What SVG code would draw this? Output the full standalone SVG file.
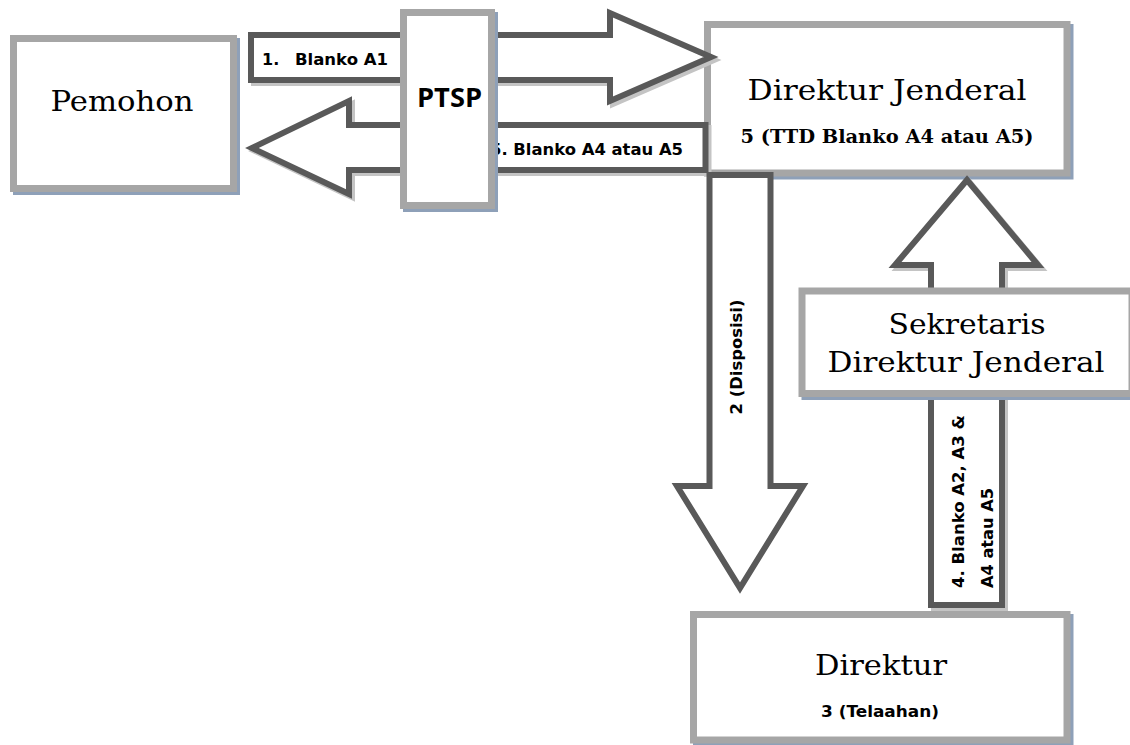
<svg xmlns="http://www.w3.org/2000/svg" width="1130" height="745" viewBox="0 0 1130 745">
<style>
.box{fill:#ffffff;stroke:#a6a6a6;stroke-width:7}
.bsh{fill:none;stroke:#8ea0b8;stroke-width:7}
.arr{fill:#ffffff;stroke:#595959;stroke-width:6;stroke-linejoin:miter}
.ash{fill:none;stroke:#c4c4c4;stroke-width:6;stroke-linejoin:miter}
.serif{font-family:"DejaVu Serif","Liberation Serif",serif;font-size:28px;fill:#000;text-anchor:middle}
.serifb{font-family:"DejaVu Serif","Liberation Serif",serif;font-size:18px;font-weight:bold;fill:#000;text-anchor:middle}
.sans{font-family:"DejaVu Sans","Liberation Sans",sans-serif;font-size:16px;font-weight:bold;fill:#000}
.ptsp{font-family:"Open Sans","Liberation Sans",sans-serif;font-size:26px;font-weight:bold;fill:#000;text-anchor:middle}
</style>
<rect width="1130" height="745" fill="#ffffff"/>
<g id="pemohon">
<rect class="bsh" x="16.5" y="41.5" width="220" height="150"/>
<rect class="box" x="13.5" y="38.5" width="220" height="150"/>
<text class="serif" x="122" y="111" textLength="143" lengthAdjust="spacingAndGlyphs">Pemohon</text>
</g>
<g id="dirjen">
<rect class="bsh" x="710.5" y="27.5" width="359.5" height="148.5"/>
<rect class="box" x="707.5" y="24.5" width="359.5" height="148.5"/>
<text class="serif" x="887" y="100" textLength="279" lengthAdjust="spacingAndGlyphs">Direktur Jenderal</text>
<text class="serifb" x="887" y="143" textLength="293" lengthAdjust="spacingAndGlyphs">5 (TTD Blanko A4 atau A5)</text>
</g>
<g id="direktur">
<rect class="bsh" x="696.5" y="617.5" width="373.5" height="125.5"/>
<rect class="box" x="693.5" y="614.5" width="373.5" height="125.5"/>
<text class="serif" x="881" y="675" textLength="132" lengthAdjust="spacingAndGlyphs">Direktur</text>
<text class="sans" x="880" y="717" text-anchor="middle" textLength="118" lengthAdjust="spacingAndGlyphs">3 (Telaahan)</text>
</g>
<g id="connectors">
<polygon class="ash" points="254,38 613,38 613,16 714,60 613,104 613,83 254,83"/>
<polygon class="arr" points="251,35 610,35 610,13 711,57 610,101 610,80 251,80"/>
<polygon class="ash" points="708.5,128 352,128 352,104 255,151 352,197 352,173 708.5,173"/>
<polygon class="arr" points="705.5,125 349,125 349,101 252,148 349,194 349,170 705.5,170"/>
<polygon class="arr" points="709.5,175 770.5,175 770.5,486 803,486 740,588 677,486 709.5,486"/>
<polygon class="ash" points="934,608 934,268 898,268 970,183 1041,268 1005,268 1005,608"/>
<polygon class="arr" points="931,605 931,265 895,265 967,180 1038,265 1002,265 1002,605"/>
<text class="sans" x="262" y="65">1.</text>
<text class="sans" x="295" y="65" textLength="93" lengthAdjust="spacingAndGlyphs">Blanko A1</text>
<text class="sans" x="490" y="155" textLength="193" lengthAdjust="spacingAndGlyphs">5. Blanko A4 atau A5</text>
<text class="sans" transform="translate(742,357) rotate(-90)" text-anchor="middle" textLength="115" lengthAdjust="spacingAndGlyphs">2 (Disposisi)</text>
<text class="sans" transform="translate(964,588) rotate(-90)" textLength="173" lengthAdjust="spacingAndGlyphs">4. Blanko A2, A3 &amp;</text>
<text class="sans" transform="translate(993,588) rotate(-90)" textLength="100" lengthAdjust="spacingAndGlyphs">A4 atau A5</text>
</g>
<g id="ptsp">
<rect class="bsh" x="406.5" y="15.5" width="88" height="193"/>
<rect class="box" x="403.5" y="12.5" width="88" height="193"/>
<text class="ptsp" x="449.5" y="107" textLength="65" lengthAdjust="spacingAndGlyphs">PTSP</text>
</g>
<g id="sekretaris">
<rect class="bsh" x="805" y="294" width="330" height="102.5"/>
<rect class="box" x="802" y="291" width="330" height="102.5"/>
<text class="serif" x="967" y="334" textLength="157" lengthAdjust="spacingAndGlyphs">Sekretaris</text>
<text class="serif" x="966" y="372" textLength="277" lengthAdjust="spacingAndGlyphs">Direktur Jenderal</text>
</g>
</svg>
